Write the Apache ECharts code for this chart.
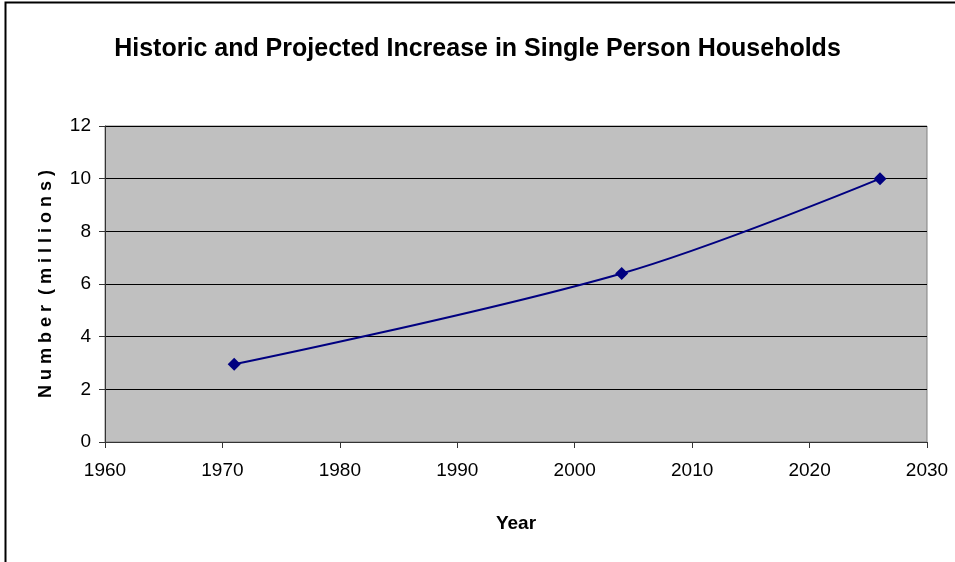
<!DOCTYPE html>
<html>
<head>
<meta charset="utf-8">
<script src="https://cdn.jsdelivr.net/npm/echarts@6/dist/echarts.min.js"></script>
<style>
  html, body { margin: 0; padding: 0; background: #fff; }
  #chart { width: 955px; height: 562px; }
</style>
</head>
<body>
<div id="chart"></div>
<script>
// data
const years = [1971, 2004, 2026];
const households = [2.95, 6.4, 10.0];

const titleText = 'Historic and Projected Increase in Single Person Households';
const fontFam = '"Liberation Sans", Arial, sans-serif';

const chart = echarts.init(document.getElementById('chart'));

const option = {
  animation: false,
  backgroundColor: '#fff',
  title: {
    text: titleText,
    left: 'center',
    top: 32,
    textStyle: { fontFamily: fontFam, fontSize: 25, fontWeight: 'bold', color: '#000' }
  },
  graphic: [{
    type: 'rect',
    shape: { x: 5.5, y: 2.5, width: 960, height: 580 },
    style: { fill: 'none', stroke: '#000', lineWidth: 2 },
    silent: true
  }],
  grid: {
    left: 105, right: 28, top: 126, bottom: 120,
    show: true, backgroundColor: '#c0c0c0', borderColor: '#808080', borderWidth: 1
  },
  xAxis: {
    type: 'value',
    min: 1960, max: 2030, interval: 10,
    name: 'Year',
    nameLocation: 'middle',
    nameGap: 72,
    nameTextStyle: { fontFamily: fontFam, fontSize: 19, fontWeight: 'bold', color: '#000' },
    axisLine: { show: true, lineStyle: { color: '#333', width: 1 } },
    axisTick: { show: true, length: 6, lineStyle: { color: '#333' } },
    axisLabel: { fontFamily: fontFam, fontSize: 19, color: '#000', margin: 19, formatter: v => String(v) },
    splitLine: { show: false }
  },
  yAxis: {
    type: 'value',
    min: 0, max: 12, interval: 2,
    name: 'N u m b e r  ( m i l l i o n s )',
    nameLocation: 'middle',
    nameGap: 50,
    nameTextStyle: { fontFamily: fontFam, fontSize: 18, fontWeight: 'bold', color: '#000' },
    axisLine: { show: true, lineStyle: { color: '#333', width: 1 } },
    axisTick: { show: true, length: 6, lineStyle: { color: '#333' } },
    axisLabel: { fontFamily: fontFam, fontSize: 19, color: '#000', margin: 14 },
    splitLine: { show: true, lineStyle: { color: '#000', width: 1 } }
  },
  series: [{
    type: 'line',
    data: years.map((y, i) => [y, households[i]]),
    smooth: 0.35,
    symbol: 'diamond',
    symbolSize: 13,
    itemStyle: { color: '#000080' },
    lineStyle: { color: '#000080', width: 2 }
  }]
};

chart.setOption(option);
</script>
</body>
</html>
